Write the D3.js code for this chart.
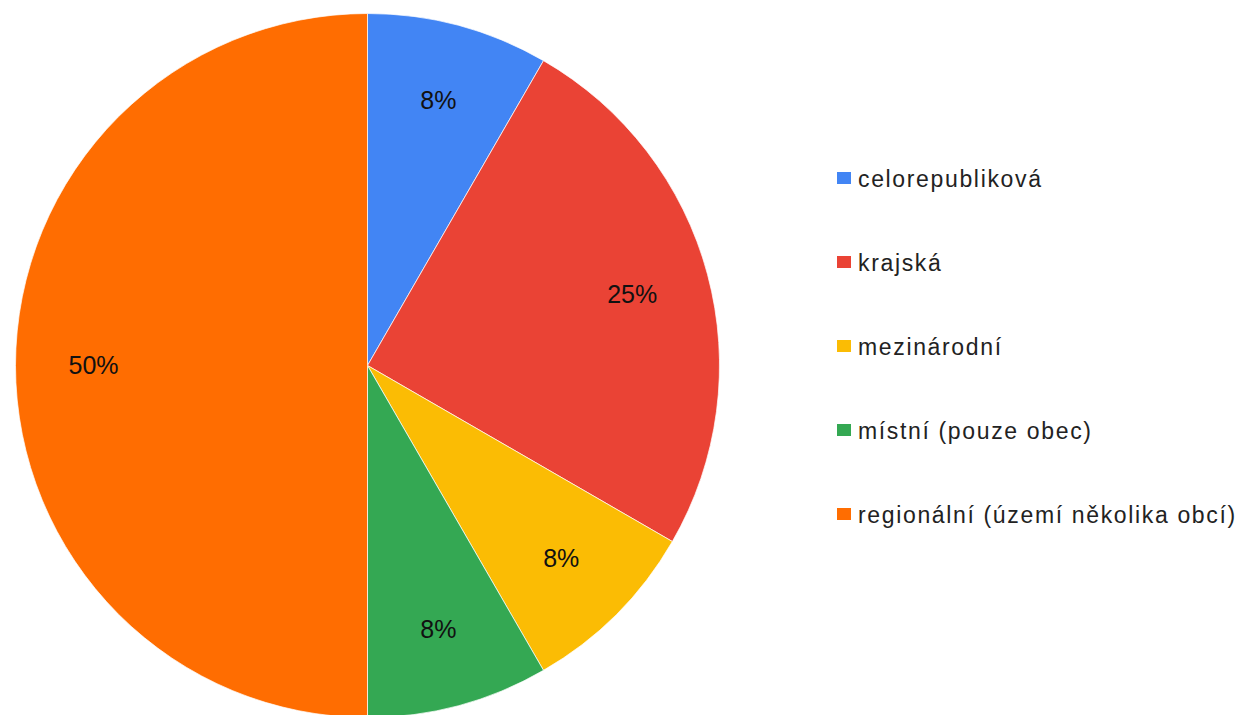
<!DOCTYPE html>
<html>
<head>
<meta charset="utf-8">
<script src="https://cdn.jsdelivr.net/npm/d3@7"></script>
<style>
  body { margin: 0; background: #fff; }
  text { font-family: "Liberation Sans", Arial, sans-serif; }
</style>
</head>
<body>
<script>
(function(){

//chart data
var categories = ["celorepubliková", "krajská", "mezinárodní", "místní (pouze obec)", "regionální (území několika obcí)"];
var counts = [1, 3, 1, 1, 6];
var colors = ["#4285F4", "#EA4335", "#FBBC04", "#34A853", "#FF6D01"];

var width = 1241,
    height = 715;

var cx = 367.5,
    cy = 365.5,
    radius = 352;

var svg = d3.select("body")
    .append("svg")
    .attr("width", width)
    .attr("height", height);

var pie = d3.pie()
    .sort(null)
    .value(function(d){ return d; });

var arcs = pie(counts);
var total = d3.sum(counts);

var arc = d3.arc()
    .innerRadius(0)
    .outerRadius(radius);

var labelArc = d3.arc()
    .innerRadius(274)
    .outerRadius(274);

var g = svg.append("g")
    .attr("transform", "translate(" + cx + "," + cy + ")");

//slices
g.selectAll(".slice")
    .data(arcs)
    .enter()
    .append("path")
    .attr("class", "slice")
    .attr("d", arc)
    .attr("fill", function(d, i){ return colors[i]; })
    .attr("stroke", "#fff")
    .attr("stroke-width", 0.7);

//percent labels
g.selectAll(".pct")
    .data(arcs)
    .enter()
    .append("text")
    .attr("class", "pct")
    .attr("transform", function(d){ return "translate(" + labelArc.centroid(d) + ")"; })
    .attr("text-anchor", "middle")
    .attr("dy", "0.33em")
    .attr("font-size", 25)
    .attr("fill", "#111")
    .text(function(d){ return Math.round(d.value / total * 100) + "%"; });

//legend
var legend = svg.append("g")
    .attr("transform", "translate(837,0)");

var rows = legend.selectAll(".row")
    .data(categories)
    .enter()
    .append("g")
    .attr("class", "row")
    .attr("transform", function(d, i){ return "translate(0," + (187 + i * 84) + ")"; });

rows.append("rect")
    .attr("x", 0)
    .attr("y", -15)
    .attr("width", 14)
    .attr("height", 12)
    .attr("fill", function(d, i){ return colors[i]; });

rows.append("text")
    .attr("x", 21)
    .attr("y", 0)
    .attr("font-size", 23)
    .attr("letter-spacing", 1.65)
    .attr("fill", "#222")
    .text(function(d){ return d; });

})();
</script>
</body>
</html>
